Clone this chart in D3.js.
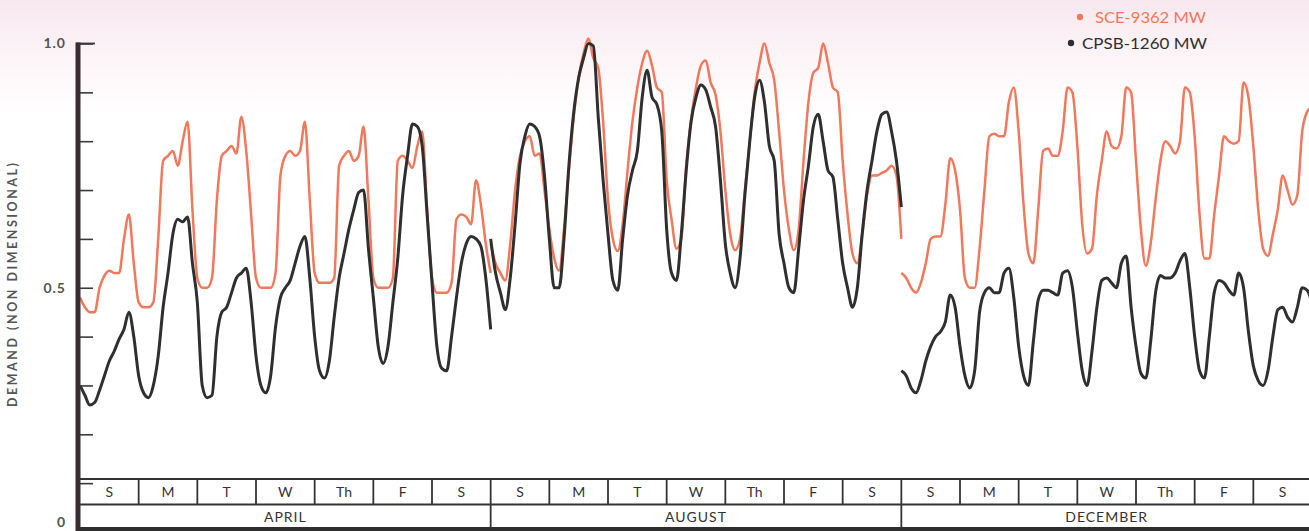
<!DOCTYPE html>
<html>
<head>
<meta charset="utf-8">
<script src="https://cdn.jsdelivr.net/npm/d3@7/dist/d3.min.js"></script>
<style>
  html, body { margin: 0; padding: 0; background: #ffffff; }
  svg { display: block; }
</style>
</head>
<body>
<svg id="chart" width="1309" height="531"></svg>
<script>
// ---------------- DATA ----------------
const dayLabels = ["S", "M", "T", "W", "Th", "F", "S"];
const monthLabels = ["APRIL", "AUGUST", "DECEMBER"];
const yTickValues = [0, 0.1, 0.2, 0.3, 0.4, 0.5, 0.6, 0.7, 0.8, 0.9, 1.0];
const yLabelValues = [0, 0.5, 1.0];
const yLabelText = ["0", "0.5", "1.0"];
const seriesNames = ["SCE-9362 MW", "CPSB-1260 MW"];
const yTitle = "DEMAND (NON DIMENSIONAL)";

// values every 2 hours (hour 0,2,...,22 per day, Sun..Sat) + closing value at hour 168
const sceApril = [
  0.48, 0.46, 0.45, 0.45, 0.50, 0.525, 0.535, 0.53, 0.53, 0.60, 0.65, 0.55,
  0.47, 0.46, 0.46, 0.47, 0.60, 0.76, 0.77, 0.78, 0.75, 0.80, 0.84, 0.66,
  0.52, 0.50, 0.50, 0.52, 0.68, 0.77, 0.78, 0.79, 0.775, 0.85, 0.78, 0.65,
  0.52, 0.50, 0.50, 0.50, 0.53, 0.73, 0.77, 0.78, 0.77, 0.78, 0.84, 0.68,
  0.53, 0.51, 0.51, 0.51, 0.52, 0.75, 0.77, 0.78, 0.76, 0.77, 0.83, 0.68,
  0.52, 0.50, 0.50, 0.50, 0.52, 0.76, 0.77, 0.76, 0.745, 0.79, 0.82, 0.66,
  0.52, 0.49, 0.49, 0.49, 0.51, 0.64, 0.65, 0.645, 0.63, 0.72, 0.67, 0.59,
  0.53
];
const cpsbApril = [
  0.30, 0.28, 0.26, 0.265, 0.29, 0.32, 0.35, 0.37, 0.395, 0.415, 0.45, 0.40,
  0.32, 0.285, 0.275, 0.30, 0.36, 0.46, 0.53, 0.61, 0.64, 0.635, 0.645, 0.55,
  0.47, 0.30, 0.275, 0.28, 0.40, 0.45, 0.46, 0.49, 0.52, 0.53, 0.54, 0.47,
  0.36, 0.30, 0.285, 0.32, 0.42, 0.48, 0.50, 0.515, 0.55, 0.585, 0.605, 0.52,
  0.40, 0.33, 0.315, 0.35, 0.44, 0.52, 0.57, 0.62, 0.66, 0.695, 0.70, 0.58,
  0.48, 0.38, 0.345, 0.38, 0.47, 0.56, 0.69, 0.77, 0.835, 0.83, 0.79, 0.65,
  0.51, 0.38, 0.335, 0.33, 0.40, 0.48, 0.55, 0.59, 0.605, 0.60, 0.585, 0.52,
  0.415
];
const sceAugust = [
  0.59, 0.55, 0.53, 0.515, 0.59, 0.70, 0.77, 0.80, 0.81, 0.77, 0.775, 0.70,
  0.62, 0.56, 0.535, 0.62, 0.74, 0.85, 0.93, 0.98, 1.01, 0.97, 0.95, 0.84,
  0.68, 0.60, 0.575, 0.63, 0.74, 0.84, 0.91, 0.96, 0.985, 0.955, 0.91, 0.90,
  0.72, 0.64, 0.58, 0.60, 0.75, 0.845, 0.91, 0.955, 0.965, 0.92, 0.895, 0.82,
  0.70, 0.61, 0.577, 0.60, 0.70, 0.80, 0.90, 0.96, 1.0, 0.96, 0.925, 0.82,
  0.70, 0.62, 0.577, 0.62, 0.76, 0.88, 0.94, 0.95, 1.0, 0.96, 0.91, 0.90,
  0.76, 0.65, 0.57, 0.55, 0.61, 0.69, 0.73, 0.73, 0.735, 0.74, 0.75, 0.73,
  0.60
];
const cpsbAugust = [
  0.60, 0.53, 0.49, 0.455, 0.52, 0.63, 0.755, 0.81, 0.835, 0.83, 0.81, 0.73,
  0.60, 0.50, 0.50, 0.60, 0.75, 0.86, 0.93, 0.97, 1.0, 0.995, 0.85, 0.72,
  0.61, 0.515, 0.495, 0.60, 0.69, 0.74, 0.78, 0.89, 0.945, 0.89, 0.875, 0.82,
  0.62, 0.53, 0.515, 0.61, 0.74, 0.84, 0.89, 0.915, 0.905, 0.87, 0.83, 0.72,
  0.59, 0.53, 0.50, 0.56, 0.69, 0.80, 0.89, 0.925, 0.88, 0.79, 0.76, 0.61,
  0.55, 0.50, 0.49, 0.58, 0.68, 0.75, 0.83, 0.855, 0.80, 0.74, 0.727, 0.64,
  0.55, 0.50, 0.46, 0.50, 0.61, 0.70, 0.76, 0.82, 0.855, 0.86, 0.82, 0.76,
  0.665
];
const sceDecember = [
  0.53, 0.52, 0.50, 0.49, 0.51, 0.55, 0.60, 0.605, 0.605, 0.67, 0.765, 0.74,
  0.66, 0.52, 0.50, 0.50, 0.58, 0.70, 0.81, 0.815, 0.81, 0.81, 0.88, 0.91,
  0.82, 0.67, 0.57, 0.55, 0.66, 0.78, 0.785, 0.77, 0.77, 0.82, 0.91, 0.90,
  0.79, 0.63, 0.57, 0.58, 0.69, 0.76, 0.82, 0.79, 0.785, 0.81, 0.91, 0.90,
  0.76, 0.62, 0.545, 0.59, 0.68, 0.76, 0.80, 0.79, 0.775, 0.80, 0.91, 0.90,
  0.81, 0.65, 0.56, 0.56, 0.65, 0.73, 0.81, 0.80, 0.795, 0.80, 0.92, 0.89,
  0.79, 0.66, 0.58, 0.565, 0.61, 0.66, 0.73, 0.70, 0.67, 0.69, 0.82, 0.86,
  0.87
];
const cpsbDecember = [
  0.33, 0.32, 0.295, 0.285, 0.31, 0.35, 0.38, 0.40, 0.41, 0.43, 0.485, 0.46,
  0.38, 0.32, 0.295, 0.33, 0.45, 0.49, 0.50, 0.49, 0.49, 0.53, 0.54, 0.48,
  0.38, 0.32, 0.30, 0.39, 0.475, 0.495, 0.495, 0.49, 0.485, 0.53, 0.535, 0.50,
  0.41, 0.33, 0.30, 0.37, 0.46, 0.515, 0.52, 0.51, 0.50, 0.55, 0.565, 0.46,
  0.38, 0.325, 0.315, 0.39, 0.49, 0.525, 0.52, 0.52, 0.53, 0.555, 0.57, 0.50,
  0.40, 0.33, 0.315, 0.40, 0.49, 0.515, 0.51, 0.495, 0.485, 0.53, 0.50, 0.41,
  0.34, 0.31, 0.30, 0.33, 0.40, 0.455, 0.46, 0.44, 0.43, 0.46, 0.50, 0.495,
  0.47
];

const sceSeries = [sceApril, sceAugust, sceDecember];
const cpsbSeries = [cpsbApril, cpsbAugust, cpsbDecember];

// ---------------- LAYOUT ----------------
const W = 1309, H = 531;
const colSCE = "#f2785c";
const colCPSB = "#2f2f2f";
const ink = "#333333";
const fontFam = "Lato, 'Open Sans', 'DejaVu Sans', sans-serif";

const svg = d3.select("#chart");

// background tint (scanned paper)
const defs = svg.append("defs");
const grad = defs.append("linearGradient").attr("id", "bg").attr("x1", 0).attr("y1", 0).attr("x2", 0).attr("y2", 1);
grad.append("stop").attr("offset", "0").attr("stop-color", "#f8e7ef");
grad.append("stop").attr("offset", "0.05").attr("stop-color", "#faeef3");
grad.append("stop").attr("offset", "0.12").attr("stop-color", "#fdf6f9");
grad.append("stop").attr("offset", "0.22").attr("stop-color", "#ffffff");
grad.append("stop").attr("offset", "1").attr("stop-color", "#ffffff");
svg.append("rect").attr("width", W).attr("height", H).attr("fill", "url(#bg)");

// scales
const hoursPerWeek = 168;
const x = d3.scaleLinear().domain([0, 3 * hoursPerWeek]).range([80, 1312]);
const y = d3.scaleLinear().domain([0, 1]).range([532, 43.5]);

const axisX = 78;
const bandTop = 479, bandMid = 504.5, bandBot = 529;

// clip for lines
defs.append("clipPath").attr("id", "plotclip")
  .append("rect").attr("x", axisX + 2).attr("y", 0).attr("width", W - axisX).attr("height", bandTop);

// ---- lines ----
const line = d3.line()
  .x(d => x(d.h))
  .y(d => y(d.v))
  .curve(d3.curveMonotoneX);

function toPoints(arr, m) {
  return arr.map((v, i) => ({ h: m * hoursPerWeek + i * 2, v: v }));
}

const gLines = svg.append("g").attr("clip-path", "url(#plotclip)");
sceSeries.forEach((arr, m) => {
  gLines.append("path")
    .attr("d", line(toPoints(arr, m)))
    .attr("fill", "none")
    .attr("stroke", colSCE)
    .attr("stroke-width", 2.5)
    .attr("stroke-linejoin", "round");
});
cpsbSeries.forEach((arr, m) => {
  gLines.append("path")
    .attr("d", line(toPoints(arr, m)))
    .attr("fill", "none")
    .attr("stroke", colCPSB)
    .attr("stroke-width", 3)
    .attr("stroke-linejoin", "round");
});

// ---- y axis ----
const tickAxis = d3.axisRight(y).tickValues(yTickValues).tickSize(15).tickFormat("");
const gTicks = svg.append("g").attr("transform", `translate(${axisX},0)`).call(tickAxis);
gTicks.select(".domain").remove();
gTicks.selectAll(".tick line").attr("stroke", "#3a3a3a").attr("stroke-width", 1.6);

// cap at top
svg.append("line").attr("x1", axisX - 2).attr("x2", axisX + 17)
  .attr("y1", y(1)).attr("y2", y(1)).attr("stroke", "#3a3a3a").attr("stroke-width", 1.8);

const labelAxis = d3.axisLeft(y).tickValues(yLabelValues).tickSize(0).tickPadding(12)
  .tickFormat((d, i) => yLabelText[i]);
const gLab = svg.append("g").attr("transform", `translate(${axisX},0)`).call(labelAxis);
gLab.select(".domain").remove();
gLab.selectAll(".tick text")
  .attr("font-family", fontFam)
  .attr("font-size", 14)
  .attr("font-weight", "bold")
  .attr("fill", "#555")
  .attr("letter-spacing", "1px");
// keep the "0" label inside the picture (it sits at the very bottom edge)
gLab.selectAll(".tick text").filter(d => d === 0).attr("dy", "-0.4em");

// thick axis spine
svg.append("line").attr("x1", axisX).attr("x2", axisX)
  .attr("y1", y(1) - 1).attr("y2", H)
  .attr("stroke", "#3a2c33").attr("stroke-width", 5);

// y title
svg.append("text")
  .attr("transform", `translate(17,${285}) rotate(-90)`)
  .attr("text-anchor", "middle")
  .attr("font-family", fontFam)
  .attr("font-size", 12.5)
  .attr("font-weight", "bold")
  .attr("fill", "#555")
  .attr("textLength", 244)
  .attr("lengthAdjust", "spacing")
  .text(yTitle);

// ---- day / month band ----
const band = svg.append("g");
band.append("line").attr("x1", axisX).attr("x2", W).attr("y1", bandTop).attr("y2", bandTop)
  .attr("stroke", ink).attr("stroke-width", 2.2);
band.append("line").attr("x1", axisX).attr("x2", W).attr("y1", bandMid).attr("y2", bandMid)
  .attr("stroke", ink).attr("stroke-width", 2);
band.append("line").attr("x1", axisX).attr("x2", W).attr("y1", bandBot).attr("y2", bandBot)
  .attr("stroke", "#2e2e2e").attr("stroke-width", 4);

monthLabels.forEach((mName, m) => {
  dayLabels.forEach((dName, d) => {
    const h0 = m * hoursPerWeek + d * 24;
    if (d > 0 || m > 0) {
      band.append("line")
        .attr("x1", x(h0)).attr("x2", x(h0))
        .attr("y1", bandTop).attr("y2", d === 0 ? bandBot : bandMid)
        .attr("stroke", ink).attr("stroke-width", 1.8);
    }
    band.append("text")
      .attr("x", x(h0 + 12)).attr("y", 497)
      .attr("text-anchor", "middle")
      .attr("font-family", fontFam)
      .attr("font-size", 14)
      .attr("fill", ink)
      .text(dName);
  });
  band.append("text")
    .attr("x", x(m * hoursPerWeek + hoursPerWeek / 2)).attr("y", 522)
    .attr("text-anchor", "middle")
    .attr("font-family", fontFam)
    .attr("font-size", 14)
    .attr("letter-spacing", "1px")
    .attr("fill", ink)
    .text(mName);
});

// ---- legend ----
const legend = svg.append("g");
const legItems = [
  { name: seriesNames[0], color: colSCE, dx: 1080, tx: 1095, ty: 17, len: 111 },
  { name: seriesNames[1], color: colCPSB, dx: 1071, tx: 1082, ty: 43, len: 125 }
];
legItems.forEach(it => {
  legend.append("circle").attr("cx", it.dx).attr("cy", it.ty).attr("r", 3.2).attr("fill", it.color);
  legend.append("text")
    .attr("x", it.tx).attr("y", it.ty + 5.5)
    .attr("font-family", fontFam)
    .attr("font-size", 15)
    .attr("fill", it.color)
    .attr("textLength", it.len)
    .attr("lengthAdjust", "spacingAndGlyphs")
    .text(it.name);
});
</script>
</body>
</html>
